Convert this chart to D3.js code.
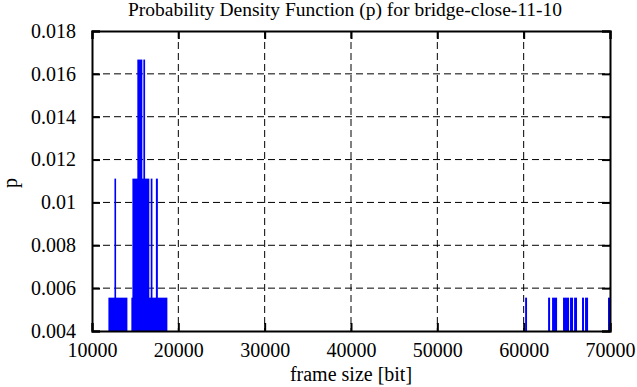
<!DOCTYPE html>
<html>
<head>
<meta charset="utf-8">
<script src="https://cdn.jsdelivr.net/npm/d3@7"></script>
<style>
  body { margin: 0; background: #fff; }
  svg text { font-family: "Liberation Serif", "DejaVu Serif", serif !important; fill: #000; }
</style>
</head>
<body>
<div id="chart-area"></div>
<script>
const BASE_WIDTH = 637;
const BASE_HEIGHT = 387;
const BAR_COLOR = '#0000ff';
const FONT = '"Liberation Serif", serif';

const TITLE = "Probability Density Function (p) for bridge-close-11-10";
const X_LABEL = "frame size [bit]";
const Y_LABEL = "p";
const X_TICKS = [10000, 20000, 30000, 40000, 50000, 60000, 70000];
const Y_TICKS = [0.004, 0.006, 0.008, 0.01, 0.012, 0.014, 0.016, 0.018];

// frame size ranges [bit] and their probability
const BIN_START = [11900, 12600, 14560, 14680, 15250, 15950, 16800, 17400,
    60170, 62830, 63290, 64560, 65370, 65840, 66760, 67110, 69770];
const BIN_END = [14100, 12790, 18730, 16640, 15830, 16150, 17000, 17630,
    60390, 63060, 63870, 65260, 65720, 66180, 66990, 67460, 70000];
const BIN_P = [0.005556, 0.011111, 0.005556, 0.011111, 0.016667, 0.016667, 0.011111, 0.011111,
    0.005556, 0.005556, 0.005556, 0.005556, 0.005556, 0.005556, 0.005556, 0.005556, 0.005556];

function render() {
    const margin = { top: 31, right: 27, bottom: 56, left: 92 };
    const width = BASE_WIDTH - margin.left - margin.right;
    const height = BASE_HEIGHT - margin.top - margin.bottom;

    const root = d3.select("#chart-area").append("svg")
        .attr("width", BASE_WIDTH)
        .attr("height", BASE_HEIGHT);

    root.append("text")
        .attr("x", 345).attr("y", 16)
        .attr("text-anchor", "middle")
        .style("font-family", FONT)
        .style("font-size", "19.5px")
        .text(TITLE);

    const svg = root.append("g")
        .attr("transform", "translate(" + margin.left + "," + margin.top + ")");

    const x = d3.scaleLinear().domain([10000, 70000]).range([0, width]);
    const y = d3.scaleLinear().domain([0.004, 0.018]).range([height, 0]);

    // grid
    svg.append("g").selectAll("line.gx")
        .data(X_TICKS.slice(1, -1))
        .enter().append("line")
        .attr("x1", d => x(d)).attr("x2", d => x(d))
        .attr("y1", 0).attr("y2", height)
        .attr("stroke", "#000").attr("stroke-width", 1)
        .attr("stroke-dasharray", "7,4");
    svg.append("g").selectAll("line.gy")
        .data(Y_TICKS.slice(1, -1))
        .enter().append("line")
        .attr("x1", 0).attr("x2", width)
        .attr("y1", d => y(d)).attr("y2", d => y(d))
        .attr("stroke", "#000").attr("stroke-width", 1)
        .attr("stroke-dasharray", "7,4");

    // bars
    const idx = d3.range(BIN_START.length);
    svg.append("g").selectAll("rect")
        .data(idx)
        .enter().append("rect")
        .attr("x", i => x(BIN_START[i]))
        .attr("width", i => Math.max(1, x(BIN_END[i]) - x(BIN_START[i])))
        .attr("y", i => y(BIN_P[i]))
        .attr("height", i => height - y(BIN_P[i]))
        .attr("fill", BAR_COLOR);

    // axes
    const axB = svg.append("g")
        .attr("transform", "translate(0," + height + ")")
        .call(d3.axisBottom(x).tickValues(X_TICKS).tickSize(-8).tickPadding(12).tickFormat(d3.format("d")));
    const axT = svg.append("g")
        .call(d3.axisTop(x).tickValues(X_TICKS).tickSize(-8).tickFormat(""));
    const axL = svg.append("g")
        .call(d3.axisLeft(y).tickValues(Y_TICKS).tickSize(-8).tickPadding(16).tickFormat(d => d3.format("")(+d.toFixed(3))));
    const axR = svg.append("g")
        .attr("transform", "translate(" + width + ",0)")
        .call(d3.axisRight(y).tickValues(Y_TICKS).tickSize(-8).tickFormat(""));

    [axB, axT, axL, axR].forEach(a => {
        a.attr("font-family", FONT).attr("font-size", 20);
        a.select(".domain").attr("stroke-width", 2);
        a.selectAll(".tick line").attr("stroke-width", 2);
        a.selectAll("text").style("font-family", FONT).style("font-size", "20px");
    });

    root.append("text")
        .attr("x", margin.left + width / 2).attr("y", 381)
        .attr("text-anchor", "middle")
        .style("font-family", FONT)
        .style("font-size", "20px")
        .text(X_LABEL);

    root.append("text")
        .attr("transform", "translate(17,183) rotate(-90)")
        .attr("text-anchor", "middle")
        .style("font-family", FONT)
        .style("font-size", "20px")
        .text(Y_LABEL);
}

render();
</script>
</body>
</html>
